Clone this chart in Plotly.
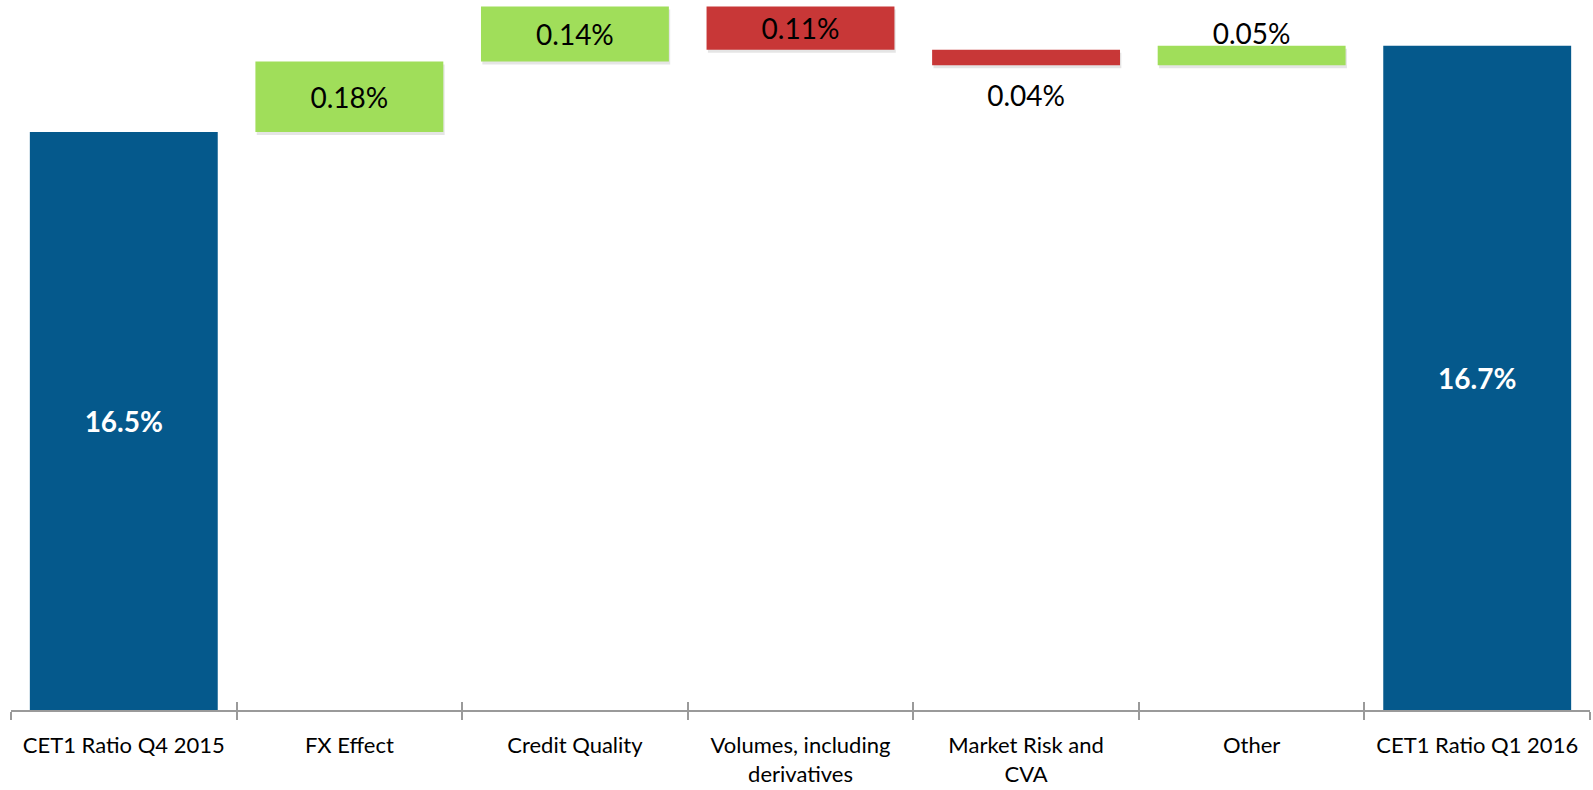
import plotly.graph_objects as go

categories = ["CET1 Ratio Q4 2015", "FX Effect", "Credit Quality",
              "Volumes, including<br>derivatives", "Market Risk and<br>CVA",
              "Other", "CET1 Ratio Q1 2016"]
start_value = 16.5
deltas = [0.18, 0.14, -0.11, -0.04, 0.05]

# cumulative computation
bases, heights = [], []
level = start_value
for d in deltas:
    bases.append(level)
    heights.append(d)
    level += d
end_value = level

total_x = [categories[0], categories[-1]]
total_y = [start_value, end_value]
delta_x = categories[1:-1]
delta_colors = ["#A0DE5A" if d > 0 else "#C83737" for d in deltas]
delta_text = [f"{abs(d):.2f}%" for d in deltas]
total_text = [f"{v:.1f}%" for v in total_y]
inside_mask = [abs(d) >= 0.1 for d in deltas]

FONT = "Lato, Open Sans, sans-serif"
BARW = 0.833
px_per_unit = 392.0
ymin = start_value - 578 / px_per_unit
ymax = ymin + 710 / px_per_unit
sh = 3 / px_per_unit

fig = go.Figure()

# subtle drop shadows for delta bars
fig.add_trace(go.Bar(
    x=delta_x, y=heights, base=[b - sh for b in bases],
    width=BARW, offset=-BARW / 2 + 0.006,
    marker=dict(color="rgba(0,0,0,0.10)", line=dict(width=0)),
    hoverinfo="skip", showlegend=False,
))

# total bars drawn from the visible axis floor so the label sits mid-bar
fig.add_trace(go.Bar(
    x=total_x, y=[v - ymin for v in total_y], base=ymin, width=BARW,
    marker=dict(color="#05598C", line=dict(width=0)),
    text=total_text, textposition="inside", insidetextanchor="middle",
    textfont=dict(family=FONT, size=28, color="white", weight="bold"),
    showlegend=False,
))

fig.add_trace(go.Bar(
    x=delta_x, y=heights, base=bases, width=BARW,
    marker=dict(color=delta_colors, line=dict(width=0)),
    text=[t if m else "" for t, m in zip(delta_text, inside_mask)],
    textposition="inside", insidetextanchor="middle",
    textfont=dict(family=FONT, size=28, color="black"),
    constraintext="none",
    showlegend=False,
))

# labels for the thin bars, placed just past the bar end
out_x, out_y, out_t = [], [], []
for x, b, d, t, m in zip(delta_x, bases, heights, delta_text, inside_mask):
    if m:
        continue
    end = b + d
    out_x.append(x)
    out_y.append(end - 34 / px_per_unit if d < 0 else end + 9 / px_per_unit)
    out_t.append(t)
fig.add_trace(go.Scatter(
    x=out_x, y=out_y, text=out_t, mode="text",
    textfont=dict(family=FONT, size=28, color="black"),
    textposition="middle center", cliponaxis=False,
    hoverinfo="skip", showlegend=False,
))

fig.update_layout(
    width=1593, height=790,
    margin=dict(l=11, r=3, t=0, b=80),
    paper_bgcolor="white", plot_bgcolor="white",
    barmode="overlay",
    font=dict(family=FONT, size=22, color="black"),
    xaxis=dict(
        categoryorder="array", categoryarray=categories,
        range=[-0.5, 6.5], automargin=False,
        showline=True, linecolor="#9a9a9a", linewidth=2,
        ticks="outside", tickson="boundaries", ticklen=8,
        tickcolor="#9a9a9a", tickwidth=1.5,
        tickfont=dict(family=FONT, size=22, color="black"),
        ticklabelstandoff=15,
        showgrid=False, zeroline=False,
    ),
    xaxis2=dict(
        overlaying="x", matches="x", anchor="y",
        categoryorder="array", categoryarray=categories,
        range=[-0.5, 6.5], side="bottom", automargin=False,
        ticks="inside", tickson="boundaries", ticklen=8,
        tickcolor="#9a9a9a", tickwidth=1.5,
        showticklabels=False, showgrid=False, zeroline=False, showline=False,
    ),
    yaxis=dict(range=[ymin, ymax], visible=False, showgrid=False, automargin=False),
)

# invisible trace to activate xaxis2
fig.add_trace(go.Scatter(x=[categories[0]], y=[ymin], xaxis="x2", mode="markers",
                         marker=dict(opacity=0), hoverinfo="skip", showlegend=False))

fig.write_html("out.html", config={"displayModeBar": False},
               post_script="document.body.style.margin='0';document.body.style.overflow='hidden';")
